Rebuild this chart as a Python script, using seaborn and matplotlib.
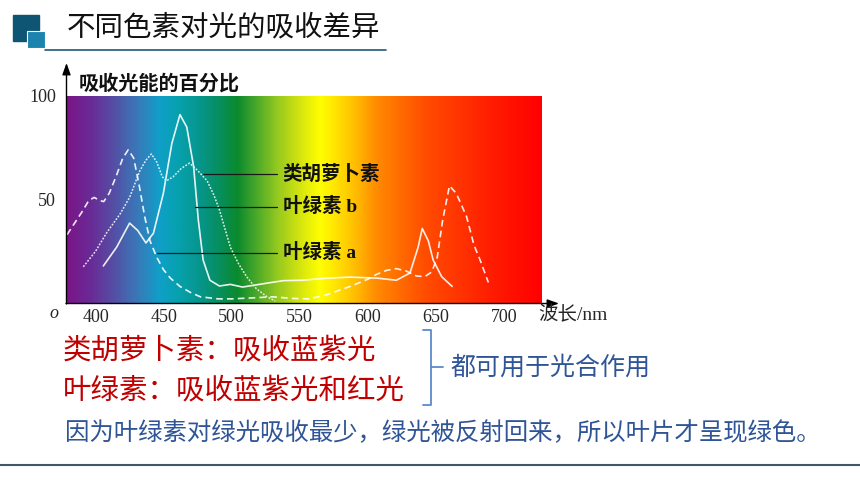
import numpy as np
import pandas as pd
import matplotlib
matplotlib.use("Agg")
import matplotlib.pyplot as plt
import seaborn as sns
from matplotlib.colors import LinearSegmentedColormap, Normalize
from matplotlib.patches import Rectangle

# ---------------- data ----------------
carot_nm = [391, 400, 408, 418, 425, 432.6, 437, 441, 445, 449, 452, 457, 463, 469, 475, 482, 487, 491, 495, 499, 505, 511, 518, 526, 532]
carot_pct = [17.5, 25, 33.8, 43, 51, 64, 69, 72, 68, 61, 59, 61, 65, 67.6, 64, 59, 52, 45, 36, 27, 19, 12.7, 7, 3, 1]

chla_nm = [379, 385, 390, 395, 399, 403, 406, 410, 415, 420, 424, 428, 432, 436, 440, 445, 450, 455, 462, 470, 477, 490, 500, 516, 530, 545, 557, 570, 587, 600, 607, 614, 621, 628, 636, 642, 647, 651, 655, 660, 665, 672.6, 678, 682.5, 688.6]
chla_pct = [33, 39, 44, 49.5, 51, 49.5, 49, 53, 61, 70, 74, 70, 57, 42, 30, 22, 16, 12, 8, 5, 3, 2, 2, 2.5, 3, 2.2, 2, 4, 8, 11.5, 14, 15.8, 16.6, 15.5, 13, 12.8, 15, 22, 40, 56.6, 53, 41.7, 28, 20.8, 9.9]

chlb_nm = [405.7, 415.5, 425, 431, 437, 442.5, 449.8, 456, 462, 467, 472, 475.5, 479, 484, 491, 499, 508, 528, 538, 552, 570, 587, 607, 621, 631, 637, 640, 644.5, 648, 654.3, 662]
chlb_pct = [17.9, 27, 38.6, 35, 29, 33.7, 53, 77, 91, 85, 66, 40, 20.8, 11, 8.2, 9, 7.7, 9.8, 10.8, 11, 12, 12.5, 12, 11, 14.5, 27, 36, 30, 20.8, 12.7, 8]

x_ticks = [400, 450, 500, 550, 600, 650, 700]
y_ticks = [50, 100]

spec_nm = [379, 395, 410, 430, 447, 462, 477, 490, 504, 518, 533, 550, 565, 578, 590, 607, 625, 643, 670, 692, 728]
spec_colors = ["#7a1687", "#6a2a96", "#5948a2", "#3a78b8", "#0ea0c8", "#06a0aa", "#07958a", "#068f60",
               "#0a8a2e", "#4aa82a", "#92c820", "#d4e410", "#ffff00", "#ffe000", "#ffc000", "#ff8a00",
               "#ff6a00", "#ff4c00", "#ff3200", "#ff1c00", "#ff0000"]

title = "不同色素对光的吸收差异"
ylabel = "吸收光能的百分比"
xlabel = "波长/nm"
pig_labels = ["类胡萝卜素", "叶绿素 b", "叶绿素 a"]
pig_label_y = [62.3, 46.5, 24.3]
pig_leader_x = [479, 473, 445]
red_lines = ["类胡萝卜素：吸收蓝紫光", "叶绿素：吸收蓝紫光和红光"]
mid_note = "都可用于光合作用"
bottom_note = "因为叶绿素对绿光吸收最少，绿光被反射回来，所以叶片才呈现绿色。"

# ---------------- style ----------------
sns.set_style("white")
plt.rcParams["font.family"] = ["Liberation Serif", "Noto Sans CJK SC"]
CJK = ["Noto Sans CJK SC", "DejaVu Sans"]
MIX = ["Liberation Serif", "Noto Sans CJK SC"]

fig = plt.figure(figsize=(8.6, 4.84), dpi=100)
fig.patch.set_facecolor("white")

XMIN, XMAX = 379, 728
ax = fig.add_axes([67 / 860, 181 / 484, 475 / 860, 207 / 484])

# spectrum background
pos = [(v - XMIN) / (XMAX - XMIN) for v in spec_nm]
cmap = LinearSegmentedColormap.from_list("spec", list(zip(pos, spec_colors)))
grad = np.linspace(XMIN, XMAX, 800).reshape(1, -1)
ax.imshow(grad, cmap=cmap, norm=Normalize(XMIN, XMAX), extent=[XMIN, XMAX, 0, 100],
          aspect="auto", interpolation="bilinear", zorder=0)

# curves
df_a = pd.DataFrame({"nm": chla_nm, "pct": chla_pct})
df_b = pd.DataFrame({"nm": chlb_nm, "pct": chlb_pct})
df_c = pd.DataFrame({"nm": carot_nm, "pct": carot_pct})
sns.lineplot(data=df_a, x="nm", y="pct", ax=ax, color="white", lw=1.2, alpha=0.9,
             linestyle=(0, (4, 2.5)), errorbar=None, sort=False, zorder=3)
sns.lineplot(data=df_b, x="nm", y="pct", ax=ax, color="white", lw=1.2, alpha=0.9,
             errorbar=None, sort=False, zorder=3)
sns.lineplot(data=df_c, x="nm", y="pct", ax=ax, color="white", lw=1.1, alpha=0.85,
             linestyle=(0, (1.2, 1)), errorbar=None, sort=False, zorder=3)

# leader lines and labels
for lab, yv, x0 in zip(pig_labels, pig_label_y, pig_leader_x):
    ax.plot([x0, 533], [yv, yv], color="#1a1a1a", lw=0.9, zorder=4)
    ax.text(537.5, yv, lab, fontsize=14, fontweight="bold", va="center", ha="left",
            family=MIX, color="#111111", zorder=5)

ax.set_xlim(XMIN, XMAX)
ax.set_ylim(0, 100)
ax.set_xticks(x_ticks)
ax.set_yticks(y_ticks)
ax.set_xticklabels([str(v) for v in x_ticks])
ax.set_yticklabels([str(v) for v in y_ticks])
ax.tick_params(axis="x", direction="in", length=5.5, width=1, color="white", pad=4, labelsize=13)
ax.tick_params(axis="y", direction="in", length=7, width=1, color="white", pad=8, labelsize=13)
for lab in ax.get_xticklabels() + ax.get_yticklabels():
    lab.set_fontfamily("Liberation Serif")
ax.set_xlabel("")
ax.set_ylabel("")
for s in ax.spines.values():
    s.set_visible(False)

# ---------------- overlay (page decorations) ----------------
ov = fig.add_axes([0, 0, 1, 1], zorder=5)
ov.set_xlim(0, 860)
ov.set_ylim(484, 0)
ov.axis("off")
ov.patch.set_alpha(0)

ov.add_patch(Rectangle((13, 15), 26, 26, color="#0e5573"))
ov.add_patch(Rectangle((27, 31), 18, 17, facecolor="#1b84ae", edgecolor="white", lw=0.8))
ov.plot([45, 386], [50, 50], color="#1f5a78", lw=1.2)
ov.text(67, 27, title, fontsize=20.5, va="center", ha="left", family=CJK, color="#111111")

# axes arrows
ov.annotate("", xy=(559, 303.5), xytext=(66, 303.5),
            arrowprops=dict(arrowstyle="-|>,head_length=0.7,head_width=0.25", color="black",
                            lw=1.0, shrinkA=0, shrinkB=0))
ov.annotate("", xy=(66.5, 63), xytext=(66.5, 304),
            arrowprops=dict(arrowstyle="-|>,head_length=0.7,head_width=0.25", color="black",
                            lw=1.0, shrinkA=0, shrinkB=0))
ov.text(79, 83, ylabel, fontsize=14.5, fontweight="bold", va="center", ha="left", family=CJK,
        color="#111111")
ov.text(54, 313, "o", fontsize=13, fontstyle="italic", va="center", ha="center",
        family=["Liberation Serif"])
ov.text(538, 315, xlabel, fontsize=14, va="center", ha="left", family=MIX)

# bottom notes
ov.text(63, 350, red_lines[0], fontsize=20.5, color="#c00000", va="center", ha="left", family=CJK)
ov.text(63, 390, red_lines[1], fontsize=20.5, color="#c00000", va="center", ha="left", family=CJK)
ov.plot([423, 431, 431, 423], [330, 330, 405, 405], color="#5b8ac8", lw=1.3)
ov.plot([431, 443], [367, 367], color="#5b8ac8", lw=1.3)
ov.text(450, 368, mid_note, fontsize=18, color="#2f5597", va="center", ha="left", family=CJK)
ov.text(65, 433, bottom_note, fontsize=17.6, color="#2f5597", va="center", ha="left", family=CJK)
ov.plot([0, 860], [465, 465], color="#44546a", lw=1.5)

fig.savefig("out.png", dpi=100)
